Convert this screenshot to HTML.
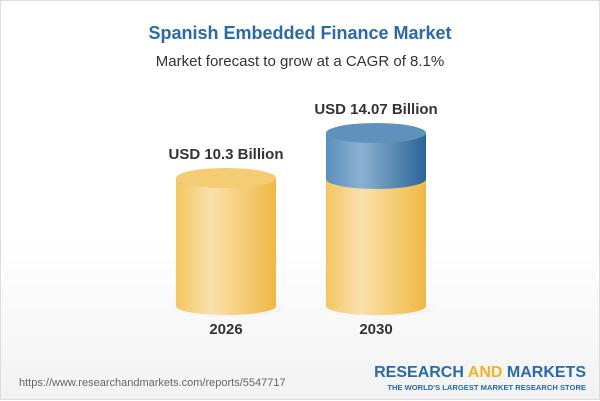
<!DOCTYPE html>
<html><head><style>
html,body{margin:0;padding:0}
body{width:600px;height:400px;position:relative;overflow:hidden;background:linear-gradient(#fff 0%,#fff 60%,#f2f2f2 100%);font-family:"Liberation Sans",Arial,sans-serif;box-sizing:border-box;border:1px solid #ddd}
.t{position:absolute;width:100%;text-align:center}
</style></head><body>
<div class="t" style="top:22px;font-size:18px;font-weight:bold;color:#2a6aa8">Spanish Embedded Finance Market</div>
<div class="t" style="top:52px;font-size:15px;color:#333">Market forecast to grow at a CAGR of 8.1%</div>
<svg width="600" height="400" style="position:absolute;left:0;top:0">
<defs>
<linearGradient id="y" x1="0" x2="1"><stop offset="0" stop-color="#f3c65e"/><stop offset=".35" stop-color="#f9e1ad"/><stop offset="1" stop-color="#f0b843"/></linearGradient>
<linearGradient id="b" x1="0" x2="1"><stop offset="0" stop-color="#5a8fbd"/><stop offset=".35" stop-color="#8cb1d1"/><stop offset="1" stop-color="#2a6497"/></linearGradient>
<radialGradient id="sh"><stop offset="0" stop-color="#000" stop-opacity=".12"/><stop offset="1" stop-color="#000" stop-opacity="0"/></radialGradient>
</defs>
<ellipse cx="230" cy="308" rx="60" ry="8" fill="url(#sh)"/>
<ellipse cx="380" cy="308" rx="60" ry="8" fill="url(#sh)"/>
<path d="M175 177 V305 A50 9 0 0 0 275 305 V177 Z" fill="url(#y)"/>
<ellipse cx="225" cy="177" rx="50" ry="10" fill="#f4cc74"/>
<path d="M325 178 V305 A50 9 0 0 0 425 305 V178 Z" fill="url(#y)"/>
<path d="M325 132 V178 A50 10 0 0 0 425 178 V132 Z" fill="url(#b)"/>
<ellipse cx="375" cy="132" rx="50" ry="10" fill="#5f91bd"/>
<g font-family="Liberation Sans,Arial,sans-serif" font-weight="bold" fill="#333" text-anchor="middle">
<text x="225" y="158" font-size="15">USD 10.3 Billion</text>
<text x="375" y="113" font-size="15">USD 14.07 Billion</text>
<text x="225" y="333" font-size="15">2026</text>
<text x="375" y="333" font-size="15">2030</text>
</g>
<text x="18" y="385" font-family="Liberation Sans,Arial,sans-serif" font-size="11" fill="#666">https://www.researchandmarkets.com/reports/5547717</text>
<text x="585" y="376" text-anchor="end" font-family="Liberation Sans,Arial,sans-serif" font-weight="bold" font-size="16" fill="#2a6aa8">RESEARCH <tspan fill="#f0b429">AND</tspan> MARKETS</text>
<text x="585" y="389" text-anchor="end" font-family="Liberation Sans,Arial,sans-serif" font-weight="bold" font-size="7.6" fill="#2a6aa8">THE WORLD'S LARGEST MARKET RESEARCH STORE</text>
</svg>
</body></html>
